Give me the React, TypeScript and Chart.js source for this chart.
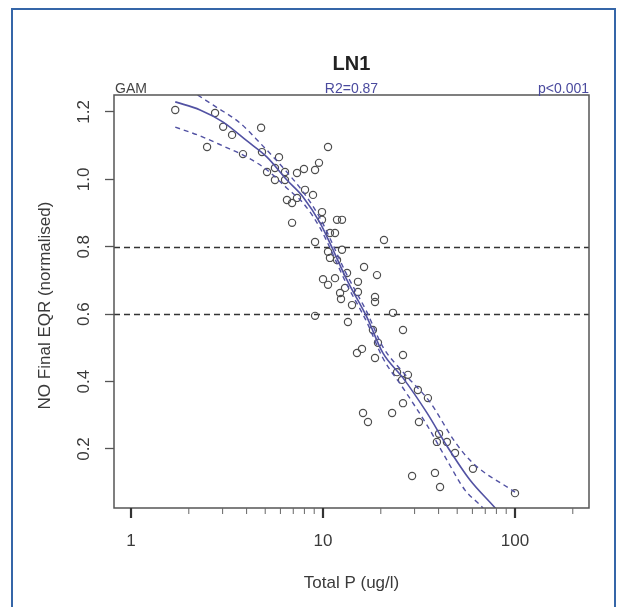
import React, { useEffect, useRef } from 'react';
import { Chart, registerables } from 'chart.js';

Chart.register(...registerables);

// ---- data ----
const POINT_X = [
  1.70, 2.74, 3.02, 3.36, 2.49, 3.83, 4.76, 4.81, 5.90, 5.11,
  5.62, 6.34, 5.62, 6.34, 7.32, 7.96, 9.09, 9.53, 10.62, 8.06,
  8.87, 6.49, 6.90, 7.32, 6.90, 9.88, 9.88, 11.83, 12.56, 10.87,
  11.55, 9.09, 10.62, 12.56, 10.87, 11.83, 13.34, 10.0, 11.55, 16.36,
  19.11, 20.78, 10.62, 13.02, 12.27, 12.41, 15.21, 15.21, 18.66, 18.66,
  14.16, 9.09, 23.15, 13.49, 18.2, 26.1, 19.33, 15.96, 15.03, 18.66,
  26.1, 24.3, 27.7, 25.8, 31.2, 35.2, 26.1, 16.16, 17.15, 22.9,
  31.6, 40.2, 44.2, 39.2, 48.7, 60.4, 29.1, 38.3, 40.7, 100.0,
];
const POINT_Y = [
  1.206, 1.197, 1.156, 1.132, 1.096, 1.075, 1.153, 1.081, 1.066, 1.022,
  1.034, 1.022, 0.998, 0.998, 1.019, 1.031, 1.028, 1.049, 1.096, 0.969,
  0.954, 0.939, 0.930, 0.945, 0.871, 0.903, 0.880, 0.880, 0.880, 0.841,
  0.841, 0.814, 0.785, 0.791, 0.767, 0.761, 0.722, 0.704, 0.707, 0.740,
  0.716, 0.820, 0.687, 0.678, 0.663, 0.645, 0.696, 0.666, 0.651, 0.636,
  0.627, 0.595, 0.604, 0.577, 0.553, 0.553, 0.515, 0.497, 0.485, 0.470,
  0.479, 0.428, 0.420, 0.405, 0.375, 0.351, 0.336, 0.307, 0.280, 0.307,
  0.280, 0.245, 0.221, 0.221, 0.188, 0.141, 0.120, 0.129, 0.087, 0.069,
];

const FIT_X = [1.70, 2.29, 3.02, 4.02, 5.11, 6.49, 7.87, 9.65, 10.87, 13.34, 16.9, 20.5, 26.1, 34.8, 44.2, 58.3, 80.5, 100];
const FIT_Y = [1.230, 1.206, 1.170, 1.114, 1.066, 0.998, 0.948, 0.871, 0.811, 0.701, 0.592, 0.485, 0.411, 0.307, 0.209, 0.108, 0.019, -0.05];

const UPPER_X = [1.70, 2.23, 2.67, 3.70, 4.70, 6.34, 7.87, 9.65, 13.34, 16.9, 20.5, 26.1, 36.1, 48.7, 60.4, 100];
const UPPER_Y = [1.295, 1.250, 1.221, 1.167, 1.108, 1.028, 0.963, 0.885, 0.716, 0.607, 0.503, 0.428, 0.339, 0.221, 0.158, 0.072];

const LOWER_X = [1.70, 2.29, 3.02, 4.02, 5.11, 6.49, 7.87, 9.65, 13.34, 16.9, 20.5, 26.1, 34.8, 44.2, 54.9, 67.3, 83.5];
const LOWER_Y = [1.155, 1.129, 1.099, 1.066, 1.028, 0.974, 0.930, 0.856, 0.687, 0.577, 0.470, 0.381, 0.271, 0.167, 0.078, 0.028, -0.04];

const REF_LINES = [0.8, 0.6];

const Y_TICKS = [0.2, 0.4, 0.6, 0.8, 1.0, 1.2];
const X_TICKS = [1, 2, 3, 4, 5, 6, 7, 8, 9, 10, 20, 30, 40, 50, 60, 70, 80, 90, 100, 200];
const X_LABELED = [1, 10, 100];

const TITLE = 'LN1';
const X_TITLE = 'Total P (ug/l)';
const Y_TITLE = 'NO Final EQR (normalised)';
const LEFT_NOTE = 'GAM';
const MID_NOTE = 'R2=0.87';
const RIGHT_NOTE = 'p<0.001';

const FONT = '"Liberation Sans", Arial, sans-serif';
const FIT_COLOR = '#5252a3';
const NOTE_COLOR = '#4a4a9e';

const toXY = (xs: number[], ys: number[]) => xs.map((x, i) => ({ x, y: ys[i] }));

export default function App() {
  const ref = useRef<HTMLCanvasElement | null>(null);

  useEffect(() => {
    const canvas = ref.current;
    if (!canvas) return;

    const overlay = {
      id: 'overlay',
      beforeDraw(chart: any) {
        const ctx = chart.ctx;
        ctx.save();
        ctx.fillStyle = '#ffffff';
        ctx.fillRect(0, 0, chart.width, chart.height);
        ctx.strokeStyle = '#3566a8';
        ctx.lineWidth = 2;
        ctx.strokeRect(12, 9, 603, 660);
        ctx.restore();
      },
      beforeDatasetsDraw(chart: any) {
        const ctx = chart.ctx;
        const { left, right } = chart.chartArea;
        const ys = chart.scales.y;
        ctx.save();
        ctx.strokeStyle = '#333333';
        ctx.lineWidth = 1.3;
        ctx.setLineDash([6, 4]);
        REF_LINES.forEach((v) => {
          const py = Math.round(ys.getPixelForValue(v)) + 0.5;
          ctx.beginPath();
          ctx.moveTo(left, py);
          ctx.lineTo(right, py);
          ctx.stroke();
        });
        ctx.restore();
      },
      afterDraw(chart: any) {
        const ctx = chart.ctx;
        const { left, right, top, bottom } = chart.chartArea;
        const xs = chart.scales.x;
        const ys = chart.scales.y;
        const cx = (left + right) / 2;
        ctx.save();
        // box
        ctx.strokeStyle = '#555555';
        ctx.lineWidth = 1.5;
        ctx.setLineDash([]);
        ctx.strokeRect(left, top, right - left, bottom - top);
        // x tick marks
        X_TICKS.forEach((v) => {
          const px = xs.getPixelForValue(v);
          const major = X_LABELED.includes(v);
          ctx.lineWidth = major ? 2.2 : 1;
          ctx.strokeStyle = major ? '#333333' : '#666666';
          ctx.beginPath();
          ctx.moveTo(px, bottom);
          ctx.lineTo(px, bottom + (major ? 10 : 6));
          ctx.stroke();
        });
        // y tick labels (rotated)
        ctx.fillStyle = '#3a3a3a';
        ctx.font = `17px ${FONT}`;
        ctx.textAlign = 'center';
        ctx.textBaseline = 'alphabetic';
        Y_TICKS.forEach((v) => {
          const py = ys.getPixelForValue(v);
          ctx.save();
          ctx.translate(89, py);
          ctx.rotate(-Math.PI / 2);
          ctx.fillText(v.toFixed(1), 0, 0);
          ctx.restore();
        });
        // y title
        ctx.save();
        ctx.translate(49.5, (top + bottom) / 2 + 4);
        ctx.rotate(-Math.PI / 2);
        ctx.fillText(Y_TITLE, 0, 0);
        ctx.restore();
        // x title
        ctx.fillText(X_TITLE, cx, 588);
        // main title
        ctx.fillStyle = '#222222';
        ctx.font = `bold 20px ${FONT}`;
        ctx.fillText(TITLE, cx, 70);
        // notes
        ctx.font = `14px ${FONT}`;
        ctx.fillStyle = '#444444';
        ctx.textAlign = 'left';
        ctx.fillText(LEFT_NOTE, left + 1, 93);
        ctx.fillStyle = NOTE_COLOR;
        ctx.textAlign = 'center';
        ctx.fillText(MID_NOTE, cx, 93);
        ctx.textAlign = 'right';
        ctx.fillText(RIGHT_NOTE, right, 93);
        ctx.restore();
      },
    };

    const lineBase = {
      type: 'line' as const,
      borderColor: FIT_COLOR,
      pointRadius: 0,
      fill: false,
      cubicInterpolationMode: 'monotone' as const,
    };

    const chart = new Chart(canvas, {
      type: 'scatter',
      data: {
        datasets: [
          { ...lineBase, data: toXY(FIT_X, FIT_Y), borderWidth: 1.6 },
          { ...lineBase, data: toXY(UPPER_X, UPPER_Y), borderWidth: 1.4, borderDash: [5, 4] },
          { ...lineBase, data: toXY(LOWER_X, LOWER_Y), borderWidth: 1.4, borderDash: [5, 4] },
          {
            type: 'scatter',
            data: toXY(POINT_X, POINT_Y),
            pointStyle: 'circle',
            pointRadius: 3.6,
            pointBorderWidth: 1.2,
            borderColor: '#4d4d4d',
            backgroundColor: 'rgba(0,0,0,0)',
          },
        ] as any,
      },
      options: {
        animation: false,
        responsive: false,
        events: [],
        layout: { padding: { left: 0, right: 36, top: 95, bottom: 0 } },
        plugins: { legend: { display: false }, tooltip: { enabled: false }, title: { display: false } },
        scales: {
          x: {
            type: 'logarithmic',
            position: 'bottom',
            min: 0.8155,
            max: 242.9,
            afterBuildTicks: (s: any) => {
              s.ticks = X_TICKS.map((v) => ({ value: v }));
            },
            afterFit: (s: any) => {
              s.height = 99;
            },
            grid: { display: false, drawTicks: false },
            border: { display: false },
            ticks: {
              autoSkip: false,
              maxRotation: 0,
              minRotation: 0,
              padding: 23,
              color: '#3a3a3a',
              font: { family: FONT, size: 17 },
              callback: (v: any) => (X_LABELED.includes(Number(v)) ? String(v) : ''),
            },
          },
          y: {
            type: 'linear',
            min: 0.0249,
            max: 1.2504,
            afterBuildTicks: (s: any) => {
              s.ticks = Y_TICKS.map((v) => ({ value: v }));
            },
            afterFit: (s: any) => {
              s.width = 114;
            },
            grid: {
              display: true,
              drawOnChartArea: false,
              drawTicks: true,
              tickLength: 9,
              tickColor: '#555555',
              tickWidth: 1.3,
              color: '#555555',
            },
            border: { display: false },
            ticks: { display: false },
          },
        },
      } as any,
      plugins: [overlay],
    });

    return () => chart.destroy();
  }, []);

  return (
    <div style={{ position: 'absolute', left: 0, top: 0, width: 625, height: 607, background: '#fff' }}>
      <canvas ref={ref} width={625} height={607} style={{ display: 'block' }} />
    </div>
  );
}
